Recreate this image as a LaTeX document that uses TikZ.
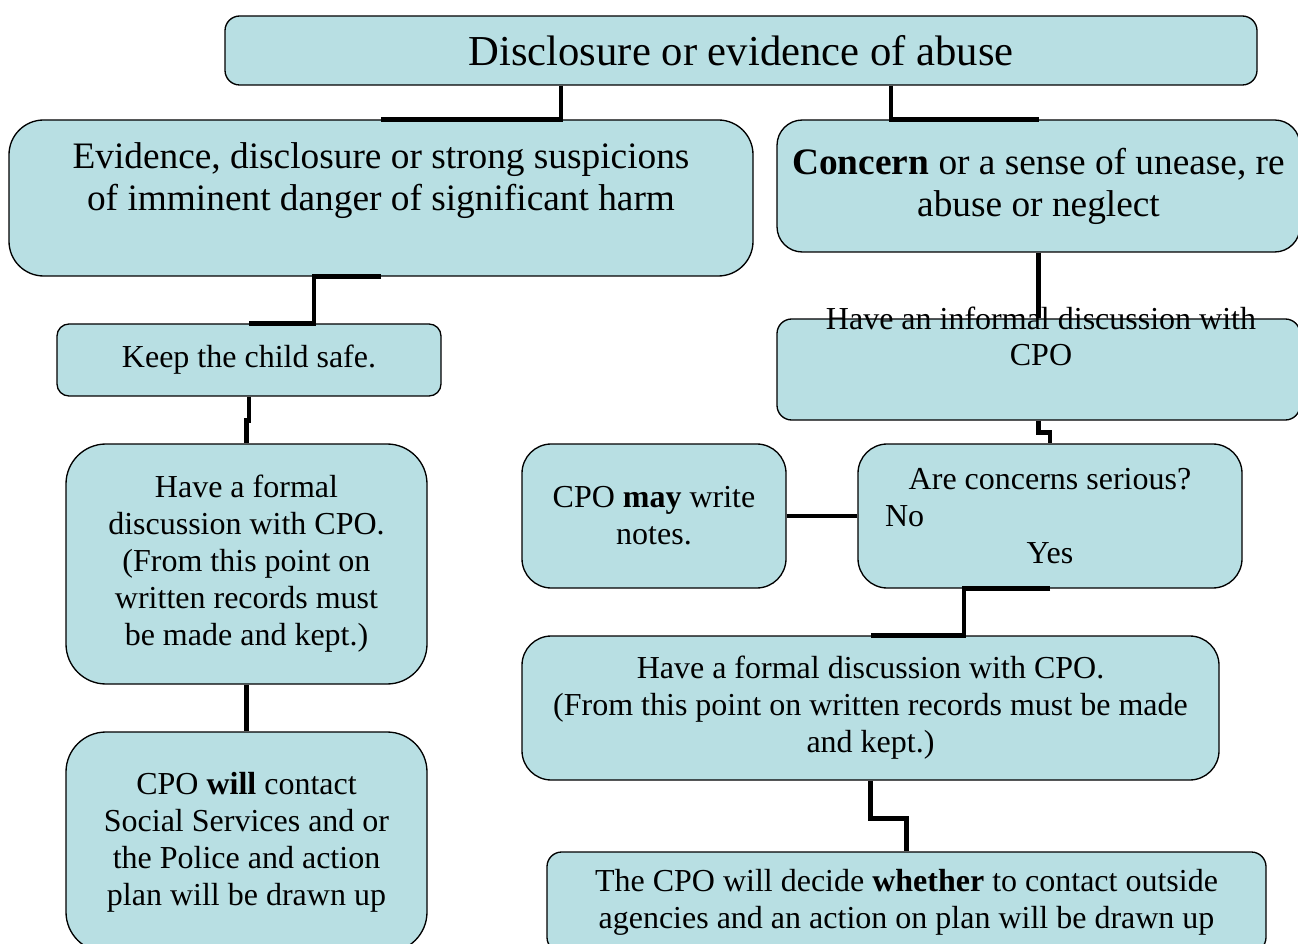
\documentclass[tikz,border=0pt]{standalone}
\usepackage{fontspec}
\setmainfont{Liberation Serif}
\definecolor{boxblue}{RGB}{184,223,227}

\begin{document}
\begin{tikzpicture}[x=0.75pt,y=-0.75pt,
  box/.style={draw, line width=1pt, fill=boxblue, rectangle, inner sep=0pt, align=center, font=\fontsize{24}{27.75}\selectfont},
  bigtext/.style={font=\fontsize{28}{31.5}\selectfont},
  link/.style={draw, line width=3.5pt}]
\useasboundingbox (0,0) rectangle (1298,944);
\node[box, rounded corners=11pt, minimum width=774pt, minimum height=51.75pt, font=\fontsize{32}{36}\selectfont] (top) at (741,50.5) {Disclosure or evidence of abuse};
\node[box, rounded corners=26pt, minimum width=558pt, minimum height=117pt] (evid) at (381,198) {};
\node[box, bigtext, rounded corners=19pt, minimum width=392.25pt, minimum height=99pt] (concern) at (1038.5,186) {\textbf{Concern} or a sense of unease, re\\abuse or neglect};
\node[box, rounded corners=9pt, minimum width=288pt, minimum height=54pt] (keep) at (249,360) {Keep the child safe.};
\node[box, rounded corners=30pt, minimum width=270.75pt, minimum height=180pt] (formal) at (246.5,564) {Have a formal\\discussion with CPO.\\(From this point on\\written records must\\be made and kept.)};
\node[box, rounded corners=30pt, minimum width=270.75pt, minimum height=165pt] (will) at (246.5,842) {CPO \textbf{will} contact\\Social Services and or\\the Police and action\\plan will be drawn up};
\node[box, rounded corners=11pt, minimum width=392.25pt, minimum height=75.75pt] (informal) at (1038.5,369.5) {};
\node[box, rounded corners=22pt, minimum width=198pt, minimum height=108pt] (notes) at (654,516) {CPO \textbf{may} write\\notes.};
\node[box, rounded corners=22pt, minimum width=288pt, minimum height=108pt] (serious) at (1050,516) {Are concerns serious?\\\makebox[247.5pt][l]{No}\\Yes};
\node[box, rounded corners=22pt, minimum width=522.75pt, minimum height=108pt] (formaltwo) at (870.5,708) {Have a formal discussion with CPO.\\(From this point on written records must be made\\and kept.)};
\node[box, rounded corners=11pt, minimum width=539.25pt, minimum height=75pt] (decide) at (906.5,902) {The CPO will decide \textbf{whether} to contact outside\\agencies and an action on plan will be drawn up};
\path[link] ([xshift=-135pt]top.south) |- (evid.north);
\path[link] ([xshift=112.5pt]top.south) |- (concern.north);
\path[link] (evid.south) -- ++(-67,0) |- (keep.north);
\path[link] (keep.south) -- ++(0,24) -| (formal.north);
\path[link] (formal.south) -- (will.north);
\path[link] (concern.south) -- (informal.north);
\path[link] (informal.south) -- ++(0,12) -| (serious.north);
\path[link] (notes.east) -- (serious.west);
\path[link] (serious.south) -- ++(-86,0) |- (formaltwo.north);
\path[link] (formaltwo.south) -- ++(0,38) -| (decide.north);
\node[bigtext, align=center] (evidtxt) at (381,181) {Evidence, disclosure or strong suspicions\\of imminent danger of significant harm};
\node[align=center, font=\fontsize{24}{27}\selectfont] (infotxt) at (1041,336) {Have an informal discussion with\\CPO};
\end{tikzpicture}
\end{document}
